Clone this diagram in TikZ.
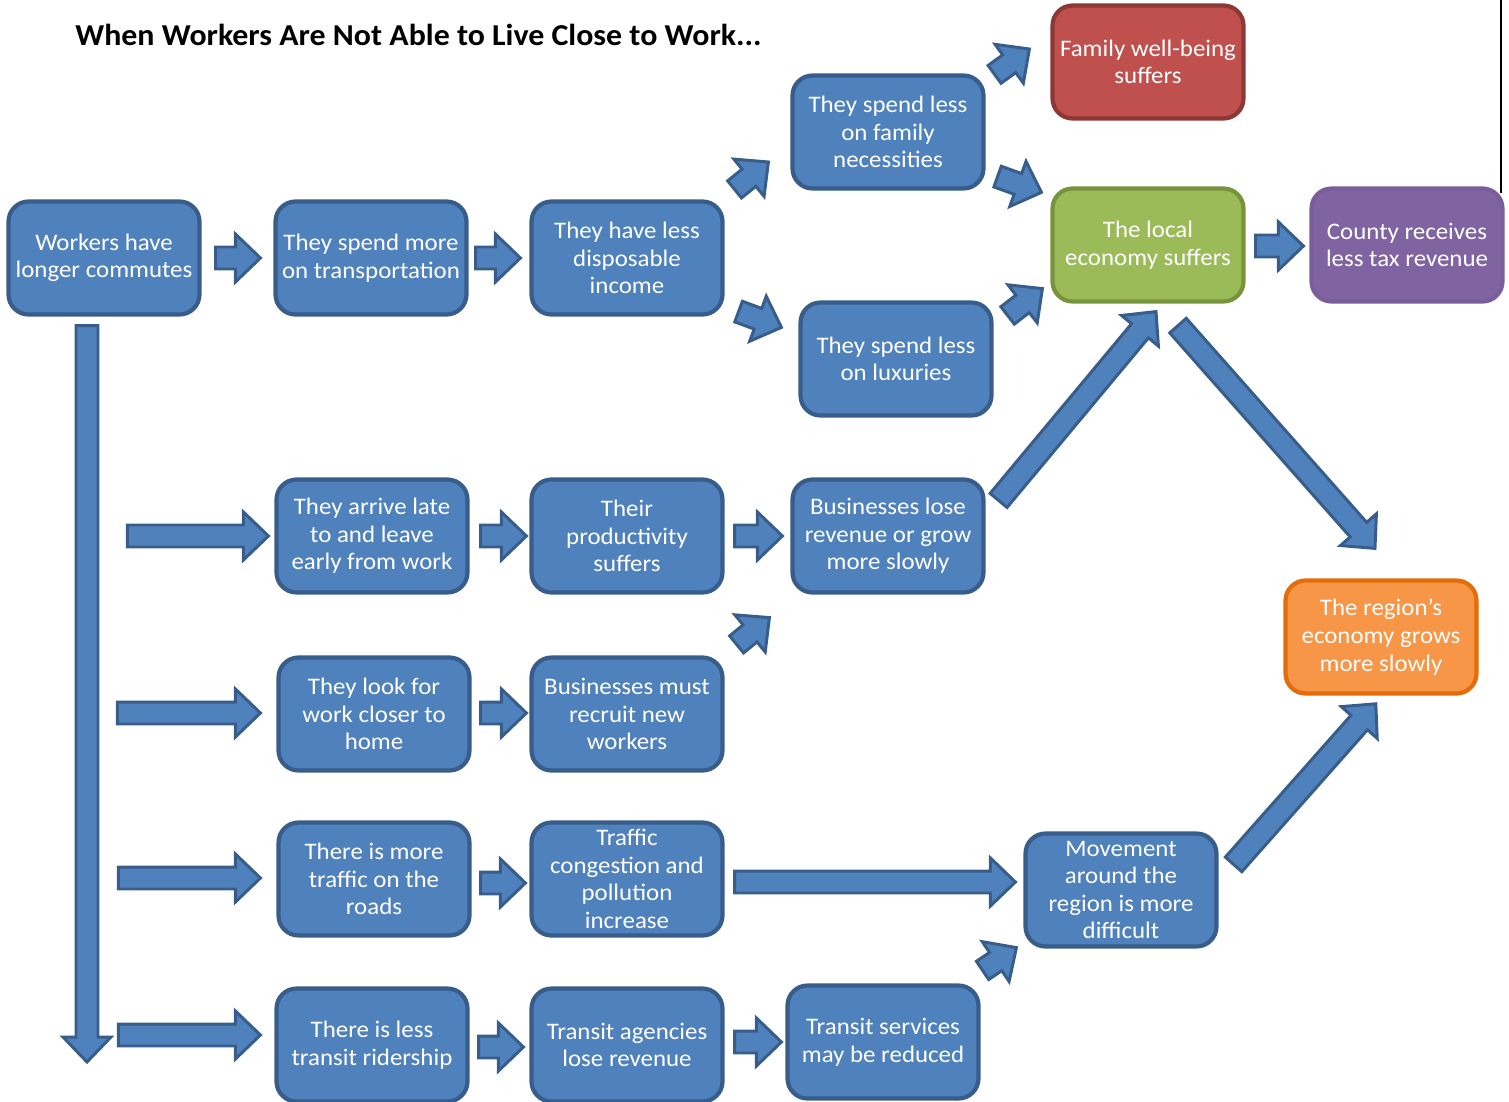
\documentclass[tikz,border=0pt]{standalone}
\usepackage{fontspec}
\setmainfont{Carlito}[FakeStretch=1.05]
\usetikzlibrary{calc}

\definecolor{boxblue}{HTML}{4F81BD}
\definecolor{boxline}{HTML}{385D8A}
\definecolor{redfill}{HTML}{C0504D}
\definecolor{redline}{HTML}{8C3836}
\definecolor{greenfill}{HTML}{9BBB59}
\definecolor{greenline}{HTML}{77933C}
\definecolor{purplefill}{HTML}{8064A2}
\definecolor{purpleline}{HTML}{7A5E9C}
\definecolor{orangefill}{HTML}{F79646}
\definecolor{orangeline}{HTML}{E46C0A}

\tikzset{
  box/.style={rounded corners=0.4cm, draw=boxline, fill=boxblue, line width=2.4pt,
    minimum width=3.82cm, minimum height=2.26cm, inner sep=1pt, align=center,
    text=white, font=\fontsize{13.5}{15.7}\selectfont},
  redbox/.style={box, draw=redline, fill=redfill},
  greenbox/.style={box, draw=greenline, fill=greenfill},
  purplebox/.style={box, draw=purpleline, fill=purplefill},
  orangebox/.style={box, draw=orangeline, fill=orangefill},
  barr/.style={draw=boxline, fill=boxblue, line width=1.7pt, line join=miter}
}

\def \sw {0.22cm} % half width of the shaft
\def \hw {0.48cm} % half width of the head
\def \hl {0.5cm}  % length of the head

% block arrow from #1 (middle of the tail) to #2 (tip)
\newcommand\barrow[2]{%
  \path[barr] let \p1=#1, \p2=#2,
    \n1={atan2(\y2-\y1,\x2-\x1)}, \n2={veclen(\x2-\x1,\y2-\y1)} in
    [shift={(\p1)}, rotate=\n1]
    (0pt,-\sw) -- ({\n2-\hl},-\sw) -- ({\n2-\hl},-\hw) -- ({\n2+0pt},0pt)
    -- ({\n2-\hl},\hw) -- ({\n2-\hl},\sw) -- (0pt,\sw) -- cycle;
}

\begin{document}
\begin{tikzpicture}[x=0.02cm, y=0.02cm]
    \useasboundingbox (0,0) rectangle (1509,-1102);
    \node[anchor=base west, inner sep=0pt, font=\fontsize{17.3}{20}\selectfont\bfseries] (title) at (75,-46)
      {When Workers Are Not Able to Live Close to Work...};
    \draw[line width=0.8pt] (1501,0) -- (1501,-193);

    % top chain
    \node[box] (wa) at (104,-258) {Workers have\\longer commutes};
    \node[box] (sp) at (371,-258) {They spend more\\on transportation};
    \node[box] (dis) at (627,-258) {They have less\\disposable\\income};
    \node[box] (fam) at (888,-132) {They spend less\\on family\\necessities};
    \node[box] (lux) at (896,-359) {They spend less\\on luxuries};
    \node[redbox] (wb) at (1148,-62) {Family well-being\\suffers};
    \node[greenbox] (loc) at (1148,-245) {The local\\economy suffers};
    \node[purplebox] (tax) at (1407,-245) {County receives\\less tax revenue};

    % rows below
    \node[box] (late) at (372,-536) {They arrive late\\to and leave\\early from work};
    \node[box] (prod) at (627,-536) {Their\\productivity\\suffers};
    \node[box] (bus) at (888,-536) {Businesses lose\\revenue or grow\\more slowly};
    \node[box] (look) at (374,-714) {They look for\\work closer to\\home};
    \node[box] (rec) at (627,-714) {Businesses must\\recruit new\\workers};
    \node[box] (traf) at (374,-879) {There is more\\traffic on the\\roads};
    \node[box] (cong) at (627,-879) {Traffic\\congestion and\\pollution\\increase};
    \node[box] (mov) at (1121,-890) {Movement\\around the\\region is more\\difficult};
    \node[orangebox] (reg) at (1381,-637) {The region’s\\economy grows\\more slowly};
    \node[box] (rid) at (372,-1045) {There is less\\transit ridership};
    \node[box] (agy) at (627,-1045) {Transit agencies\\lose revenue};
    \node[box] (svc) at (883,-1042) {Transit services\\may be reduced};

    \coordinate (bot) at (87,-1062);

    \barrow{($(wa.east)+(14,0)$)}{($(sp.west)+(-13,0)$)}
    \barrow{($(sp.east)+(7,0)$)}{($(dis.west)+(-9,0)$)}
    \barrow{($(dis.north east)+(10,10)$)}{($(fam.west)+(-22,-30)$)}
    \barrow{($(dis.south east)+(14,5)$)}{($(lux.north west)+(-17,-27)$)}
    \barrow{($(fam.north east)+(9,-1)$)}{($(wb.west)+(-21,13)$)}
    \barrow{($(fam.south east)+(12,14)$)}{($(loc.north west)+(-9,-6)$)}
    \barrow{($(lux.north east)+(14,-15)$)}{($(loc.south west)+(-8,15)$)}
    \barrow{($(loc.east)+(10,-1)$)}{($(tax.west)+(-6,-1)$)}

    % long arrow down the left side
    \barrow{($(wa.south)+(-17,-9)$)}{(bot)}
    \foreach \nm/\ta/\ti/\dy in {late/147/6/0, look/159/16/1, traf/158/16/1, rid/156/14/10}
    {
      \barrow{($(\nm.west)+(-\ta,\dy)$)}{($(\nm.west)+(-\ti,\dy)$)}
    }

    \barrow{($(late.east)+(11,0)$)}{($(prod.west)+(-3,0)$)}
    \barrow{($(prod.east)+(10,0)$)}{($(bus.west)+(-8,0)$)}
    \barrow{($(look.east)+(9,1)$)}{($(rec.west)+(-3,1)$)}
    \barrow{($(rec.north east)+(12,11)$)}{($(bus.south west)+(-21,-23)$)}
    \barrow{($(bus.north east)+(13,-23)$)}{($(loc.south)+(8,-8)$)}
    \barrow{($(loc.south)+(30,-22)$)}{($(reg.north)+(-6,30)$)}
    \barrow{($(traf.east)+(9,-4)$)}{($(cong.west)+(-4,-4)$)}
    \barrow{($(cong.east)+(10,-3)$)}{($(mov.west)+(-8,8)$)}
    \barrow{($(mov.north east)+(15,-33)$)}{($(reg.south)+(-5,-8)$)}
    \barrow{($(rid.east)+(9,-2)$)}{($(agy.west)+(-6,-2)$)}
    \barrow{($(agy.east)+(10,3)$)}{($(svc.west)+(-4,0)$)}
    \barrow{($(svc.north east)+(2,13)$)}{($(mov.south west)+(-7,1)$)}
\end{tikzpicture}
\end{document}
